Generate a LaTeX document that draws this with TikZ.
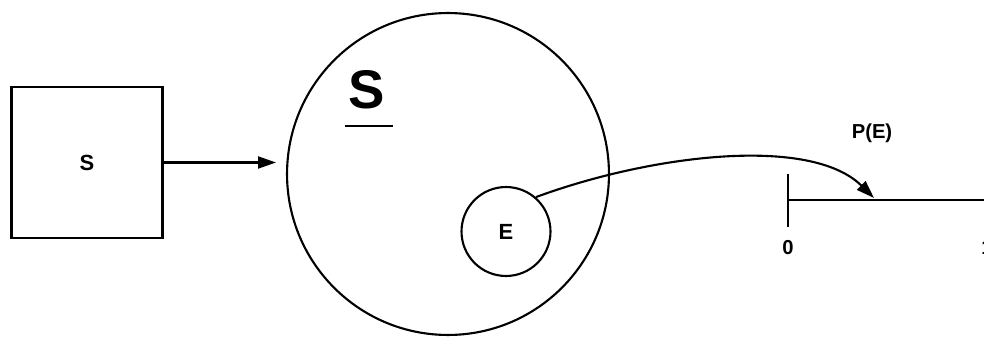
\documentclass[tikz,border=0pt]{standalone}
\usepackage{fontspec}
\setmainfont{Liberation Sans}
\usetikzlibrary{arrows.meta}
\tikzset{
  line/.style={line width=1.2pt},
  tip/.style={-{Triangle[length=0.36cm,width=0.24cm]}},
  lbl/.style={font=\bfseries\fontsize{12.5}{14}\selectfont},
  axlbl/.style={font=\bfseries\fontsize{11.5}{13}\selectfont}
}
\begin{document}
\begin{tikzpicture}[x=0.02cm,y=-0.02cm]
\useasboundingbox (0,0) rectangle (984,337);

\node[line,draw,minimum size=3.02cm,lbl] (box) at (87,162.5) {S};
\node[line,draw,circle,minimum size=6.44cm] (space) at (448,174) {};
\node[font=\bfseries\fontsize{31}{31}\selectfont] (bigs) at (367,90) {S};
\draw[line] (345,126) -- (393,126);
\node[line,draw,circle,minimum size=1.78cm,lbl] (ev) at (506,231.5) {E};

\coordinate (arrend) at (276,162.5);
\draw[line,tip] (box.east) -- (arrend);

\coordinate (o) at (788,200);
\coordinate (axend) at (990,200);
\coordinate (pe) at (874,198);
\draw[line] (788,174) -- (788,227);
\draw[line] (o) -- (axend);
\node[axlbl] (zero) at (788,248) {0};
\node[axlbl] (one) at (987,248) {1};
\node[axlbl] (prob) at (872,133) {P(E)};

\draw[line,tip] (ev.49) .. controls (650,155) and (810,135) .. (pe);
\end{tikzpicture}
\end{document}
